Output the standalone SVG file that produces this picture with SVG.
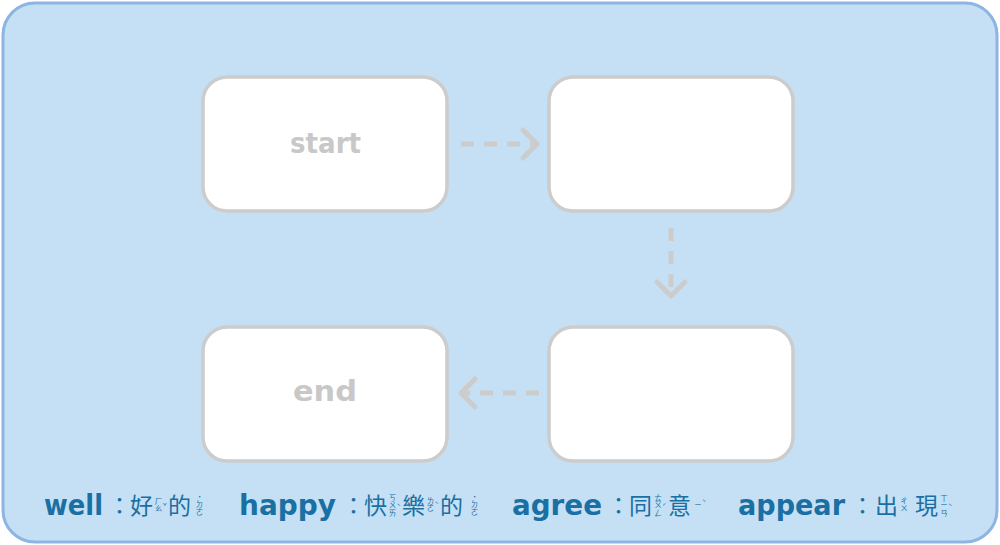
<svg xmlns="http://www.w3.org/2000/svg" width="1000" height="545" viewBox="0 0 1000 545">
<defs>
<style>
.node rect{fill:#ffffff;stroke:#cccccc;stroke-width:3.5}
.lbl{font-family:"DejaVu Sans","Liberation Sans",sans-serif;font-weight:bold;font-size:28px;fill:#c8c8c8}
.conn{fill:none;stroke:#cccccc;stroke-width:5;stroke-dasharray:13 10}
.en{font-family:"DejaVu Sans","Liberation Sans",sans-serif;font-weight:bold;font-size:28px;fill:#1a6fa3}
.zh{font-family:"Noto Sans CJK TC","Noto Sans CJK SC",sans-serif;font-size:23px;fill:#1a6fa3}
.bp{font-family:"Noto Sans CJK TC","Noto Sans CJK SC",sans-serif;font-size:7.5px;fill:#1a6fa3;writing-mode:vertical-rl;text-orientation:upright;font-feature-settings:"vert" 0}
.tn{font-family:"Noto Sans CJK TC","Noto Sans CJK SC",sans-serif;font-size:7.5px;fill:#1a6fa3}
</style>
<marker id="chev" markerUnits="userSpaceOnUse" markerWidth="40" markerHeight="40" viewBox="-20 -20 40 40" refX="0" refY="0" orient="auto" overflow="visible">
<path d="M-14,-14 L0,0 L-14,14" fill="none" stroke="#cccccc" stroke-width="5" stroke-linecap="round" stroke-linejoin="round"/>
</marker>
</defs>
<rect x="3" y="3" width="994" height="539" rx="32" fill="#c5e0f4" stroke="#8db4e2" stroke-width="3"/>
<g id="node-start" class="node"><rect x="203" y="77" width="244" height="134" rx="24"/><text class="lbl" x="290" y="153" textLength="71" lengthAdjust="spacingAndGlyphs">start</text></g>
<g id="node-2" class="node"><rect x="549" y="77" width="244" height="134" rx="24"/></g>
<g id="node-3" class="node"><rect x="549" y="327" width="244" height="134" rx="24"/></g>
<g id="node-end" class="node"><rect x="203" y="327" width="244" height="134" rx="24"/><text class="lbl" x="293" y="401" textLength="64" lengthAdjust="spacingAndGlyphs">end</text></g>
<g id="connectors">
<path class="conn" d="M461,144 L537,144" marker-end="url(#chev)"/>
<path class="conn" d="M671,228 L671,296" marker-end="url(#chev)"/>
<path class="conn" d="M539,393 L461,393" marker-end="url(#chev)"/>
</g>
<g id="legend">
<text class="en" x="44" y="515" textLength="59" lengthAdjust="spacingAndGlyphs">well</text>
<text class="zh" x="108" y="514">：</text>
<text class="zh" x="130" y="514">好</text>
<text class="bp" x="158.5" y="497">ㄏㄠ</text>
<text class="tn" x="162.5" y="510">ˇ</text>
<text class="zh" x="168" y="514">的</text>
<text class="bp" x="199.5" y="493">˙ㄉㄜ</text>
<text class="en" x="239" y="515" textLength="97" lengthAdjust="spacingAndGlyphs">happy</text>
<text class="zh" x="342" y="514">：</text>
<text class="zh" x="364" y="514">快</text>
<text class="bp" x="392.5" y="494">ㄎㄨㄞ</text>
<text class="tn" x="396.5" y="510">ˋ</text>
<text class="zh" x="402" y="514">樂</text>
<text class="bp" x="430.5" y="497">ㄌㄜ</text>
<text class="tn" x="434.5" y="508">ˋ</text>
<text class="zh" x="440" y="514">的</text>
<text class="bp" x="474.5" y="493">˙ㄉㄜ</text>
<text class="en" x="512" y="515" textLength="90" lengthAdjust="spacingAndGlyphs">agree</text>
<text class="zh" x="607" y="514">：</text>
<text class="zh" x="629" y="514">同</text>
<text class="bp" x="658" y="494">ㄊㄨㄥ</text>
<text class="tn" x="662" y="510">ˊ</text>
<text class="zh" x="668" y="514">意</text>
<text class="bp" x="698" y="501">ㄧ</text>
<text class="tn" x="702" y="506">ˋ</text>
<text class="en" x="738" y="515" textLength="107" lengthAdjust="spacingAndGlyphs">appear</text>
<text class="zh" x="851" y="514">：</text>
<text class="zh" x="875" y="514">出</text>
<text class="bp" x="904" y="497">ㄔㄨ</text>
<text class="zh" x="915" y="514">現</text>
<text class="bp" x="944" y="494">ㄒㄧㄢ</text>
<text class="tn" x="948" y="510">ˋ</text>
</g>
</svg>
